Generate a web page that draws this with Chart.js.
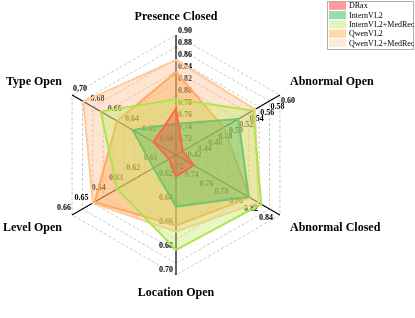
<!DOCTYPE html>
<html>
<head>
<meta charset="utf-8">
<script src="https://cdn.jsdelivr.net/npm/chart.js@4.4.0/dist/chart.umd.min.js"></script>
<style>
  body { margin: 0; background: #fff; }
  #wrap { width: 415px; height: 318px; }
</style>
</head>
<body>
<div id="wrap"><canvas id="chart1" width="415" height="318"></canvas></div>
<script>
// axes (clockwise from top) and their own ranges
var axisLabels = ['Presence Closed', 'Abnormal Open', 'Abnormal Closed', 'Location Open', 'Level Open', 'Type Open'];
var axisMin = [0.70, 0.40, 0.70, 0.60, 0.60, 0.58];
var axisMax = [0.90, 0.60, 0.84, 0.70, 0.66, 0.70];

// tick labels per axis
var ticksPresence = [0.72, 0.74, 0.76, 0.78, 0.80, 0.82, 0.84, 0.86, 0.88, 0.90];
var ticksAbnOpen = [0.42, 0.44, 0.46, 0.48, 0.50, 0.52, 0.54, 0.56, 0.58, 0.60];
var ticksAbnClosed = [0.72, 0.74, 0.76, 0.78, 0.80, 0.82, 0.84];
var ticksLocation = [0.62, 0.64, 0.66, 0.68, 0.70];
var ticksLevel = [0.61, 0.62, 0.63, 0.64, 0.65, 0.66];
var ticksType = [0.60, 0.62, 0.64, 0.66, 0.68, 0.70];
var axisTicks = [ticksPresence, ticksAbnOpen, ticksAbnClosed, ticksLocation, ticksLevel, ticksType];

// series
var seriesNames = ['DRax', 'InternVL2', 'InternVL2+MedRec', 'QwenVL2', 'QwenVL2+MedRec'];
var dataDRax = [0.777, 0.413, 0.724, 0.618, 0.604, 0.606];
var dataInternVL2 = [0.752, 0.520, 0.798, 0.643, 0.613, 0.630];
var dataInternMedRec = [0.793, 0.548, 0.815, 0.679, 0.634, 0.667];
var dataQwenVL2 = [0.838, 0.492, 0.799, 0.659, 0.647, 0.648];
var dataQwenMedRec = [0.858, 0.552, 0.811, 0.664, 0.648, 0.687];
var seriesData = [dataDRax, dataInternVL2, dataInternMedRec, dataQwenVL2, dataQwenMedRec];

// styles
var lineColors = ['#ff6450', '#74c46e', '#aee44e', '#ffa860', '#ffc99a'];
var fillColors = ['rgba(255,70,60,0.38)', 'rgba(70,185,90,0.36)', 'rgba(190,235,90,0.36)', 'rgba(255,160,70,0.36)', 'rgba(255,190,140,0.40)'];
var legendColors = ['#ff9a9a', '#98dcae', '#e0f5bb', '#ffd8ab', '#ffe9d9'];

// offsets of tick labels for each axis: dx, dy, align
var tickOffset = [[2, -4, 'left'], [8, 6, 'center'], [-7, 3, 'right'], [-3, -5, 'right'], [-1, -7, 'right'], [1, -6, 'left']];

// value -> fraction of the axis
function toFrac(v, i){
    return (v - axisMin[i]) / (axisMax[i] - axisMin[i]);
}

var datasets = [];
for (var s = 0; s < seriesNames.length; s++){
    datasets.push({
        label: seriesNames[s],
        data: seriesData[s].map(function(v, i){ return toFrac(v, i); }),
        borderColor: lineColors[s],
        backgroundColor: fillColors[s],
        borderWidth: 2,
        fill: true,
        pointRadius: 0,
        tension: 0
    });
}

var axisTextPlugin = {
    id: 'axisText',
    beforeDatasetsDraw: function(chart){
        var scale = chart.scales.r;
        var ctx = chart.ctx;
        ctx.save();
        ctx.font = 'bold 8px "Liberation Serif"';
        ctx.fillStyle = '#000';
        ctx.textBaseline = 'middle';
        for (var i = 0; i < axisLabels.length; i++){
            var t = axisTicks[i];
            var o = tickOffset[i];
            ctx.textAlign = o[2];
            for (var j = 0; j < t.length; j++){
                var p = scale.getPointPosition(i, scale.getDistanceFromCenterForValue(toFrac(t[j], i)));
                ctx.fillText(t[j].toFixed(2), p.x + o[0], p.y + o[1]);
            }
        }
        ctx.restore();
    },
    afterDraw: function(chart){
        var scale = chart.scales.r;
        var ctx = chart.ctx;
        var cx = scale.xCenter, cy = scale.yCenter, R = scale.drawingArea;
        ctx.save();
        // titres des axes
        ctx.font = 'bold 12px "Liberation Serif"';
        ctx.fillStyle = '#000';
        ctx.textBaseline = 'middle';
        ctx.textAlign = 'center';
        ctx.fillText(axisLabels[0], cx, cy - R * 1.15);
        ctx.fillText(axisLabels[3], cx, cy + R * 1.15);
        ctx.textAlign = 'left';
        ctx.fillText(axisLabels[1], cx + R * 0.95, cy - R * 0.61);
        ctx.fillText(axisLabels[2], cx + R * 0.95, cy + R * 0.61);
        ctx.textAlign = 'right';
        ctx.fillText(axisLabels[5], cx - R * 0.95, cy - R * 0.61);
        ctx.fillText(axisLabels[4], cx - R * 0.95, cy + R * 0.61);

        // legende
        ctx.fillStyle = '#fff';
        ctx.fillRect(327.5, 1.5, 86, 48);
        ctx.strokeStyle = '#b0b0b0';
        ctx.lineWidth = 1;
        ctx.strokeRect(327.5, 1.5, 86, 48);
        ctx.font = '8px "Liberation Serif"';
        ctx.textAlign = 'left';
        for (var s = 0; s < seriesNames.length; s++){
            var y = 5.8 + s * 9.3;
            ctx.fillStyle = legendColors[s];
            ctx.fillRect(329, y - 4, 17, 8);
            ctx.fillStyle = '#000';
            ctx.fillText(seriesNames[s], 349, y + 0.5);
        }
        ctx.restore();
    }
};

var ctx = document.getElementById('chart1').getContext('2d');
var myChart = new Chart(ctx, {
    type: 'radar',
    data: {
        labels: axisLabels,
        datasets: datasets
    },
    options: {
        responsive: false,
        animation: false,
        layout: { padding: { left: 56, right: 118, top: 35, bottom: 42 } },
        plugins: {
            legend: { display: false },
            tooltip: { enabled: false }
        },
        scales: {
            r: {
                min: 0,
                max: 1,
                ticks: { display: false, stepSize: 0.1 },
                pointLabels: { display: false },
                grid: { color: '#bdbdbd', lineWidth: 0.8 },
                border: { dash: [3, 2] },
                angleLines: { color: '#000', lineWidth: 1.2 }
            }
        }
    },
    plugins: [axisTextPlugin]
});
</script>
</body>
</html>
